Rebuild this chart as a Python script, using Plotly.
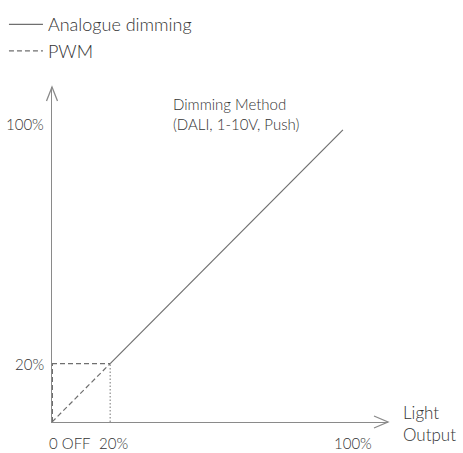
import plotly.graph_objects as go

# Data (percent of dimming input vs light output)
analog_x = [20, 100]
analog_y = [20, 100]
pwm_diag_x = [0, 20]
pwm_diag_y = [0, 20]
pwm_horiz_x = [0, 20]
pwm_horiz_y = [20, 20]
pwm_axis_x = [0, 0]
pwm_axis_y = [0, 20]
guide_x = [20, 20]
guide_y = [0, 20]

y_tick_vals = [100, 20]
y_tick_text = ["100%", "20%"]
x_tick_vals = [0, 20, 100]
x_tick_text = ["0 OFF", "20%", "100%"]

FONT = "Lato"
W = 300
TXT = "#333333"
LINE = "#6f6f6f"
AX = "#8a8a8a"

fig = go.Figure()
fig.add_trace(go.Scatter(x=analog_x, y=analog_y, mode="lines", name="Analogue dimming",
                         line=dict(color=LINE, width=1.2)))
fig.add_trace(go.Scatter(x=pwm_diag_x, y=pwm_diag_y, mode="lines", name="PWM",
                         line=dict(color=LINE, width=1.2, dash="5px,3px")))
fig.add_trace(go.Scatter(x=pwm_horiz_x, y=pwm_horiz_y, mode="lines", showlegend=False,
                         line=dict(color=LINE, width=1.2, dash="5px,3px")))
fig.add_trace(go.Scatter(x=pwm_axis_x, y=pwm_axis_y, mode="lines", showlegend=False,
                         line=dict(color=LINE, width=2, dash="5px,3px")))
fig.add_trace(go.Scatter(x=guide_x, y=guide_y, mode="lines", showlegend=False,
                         line=dict(color="#8c8c8c", width=1.2, dash="1.5px,2px")))

XMAX = 115.5
YMAX = 114.7

fig.update_xaxes(range=[0, XMAX], showline=True, linecolor=AX, linewidth=1.3,
                 showgrid=False, zeroline=False, showticklabels=False, ticks="")
fig.update_yaxes(range=[0, YMAX], showline=True, linecolor=AX, linewidth=1.3,
                 showgrid=False, zeroline=False, showticklabels=False, ticks="")

# arrowheads (open V) at ends of the axes
fig.add_shape(type="path", xref="paper", yref="paper", xsizemode="pixel", ysizemode="pixel",
              xanchor=1, yanchor=0, path="M -14,6 L 0,0 L -14,-6",
              line=dict(color=AX, width=1.3))
fig.add_shape(type="path", xref="paper", yref="paper", xsizemode="pixel", ysizemode="pixel",
              xanchor=0, yanchor=1, path="M -5.5,-14 L 0,0 L 5.5,-14",
              line=dict(color=AX, width=1.3))

# y tick labels
y_shift = {100: 6, 20: 0}
for v, t in zip(y_tick_vals, y_tick_text):
    fig.add_annotation(x=0, y=v, text=t, showarrow=False, xanchor="right", yanchor="middle",
                       xshift=-6, yshift=y_shift[v],
                       font=dict(family=FONT, size=15, color=TXT, weight=W))
# x tick labels
x_anchor = {0: "left", 20: "center", 100: "center"}
x_shift = {0: -5, 20: 3, 100: 10}
for v, t in zip(x_tick_vals, x_tick_text):
    fig.add_annotation(x=v, y=0, text=t, showarrow=False, xanchor=x_anchor[v], yanchor="middle",
                       xshift=x_shift[v], yshift=-21,
                       font=dict(family=FONT, size=15, color=TXT, weight=W))

# axis title / label texts
fig.add_annotation(x=1, y=0, xref="paper", yref="y", text="Light<br>Output", showarrow=False,
                   xanchor="left", yanchor="middle", xshift=13, yshift=-1, align="left",
                   font=dict(family=FONT, size=17, color=TXT, weight=W))
fig.add_annotation(x=41, y=100, text="Dimming Method<br>(DALI, 1-10V, Push)", showarrow=False,
                   xanchor="left", yanchor="middle", yshift=16, align="left",
                   font=dict(family=FONT, size=15, color=TXT, weight=W))

fig.update_layout(
    width=463, height=453,
    margin=dict(l=52, r=75, t=87, b=31, autoexpand=False),
    paper_bgcolor="white", plot_bgcolor="white",
    font=dict(family=FONT, color=TXT),
    showlegend=True,
    legend=dict(x=-0.143, y=1.241, xanchor="left", yanchor="top",
                bgcolor="rgba(0,0,0,0)", font=dict(family=FONT, size=18, color=TXT, weight=W),
                itemwidth=34, tracegroupgap=0),
)

fig.write_html("out.html", config={"displayModeBar": False},
               post_script="document.body.style.margin='0';document.body.style.overflow='hidden';")
